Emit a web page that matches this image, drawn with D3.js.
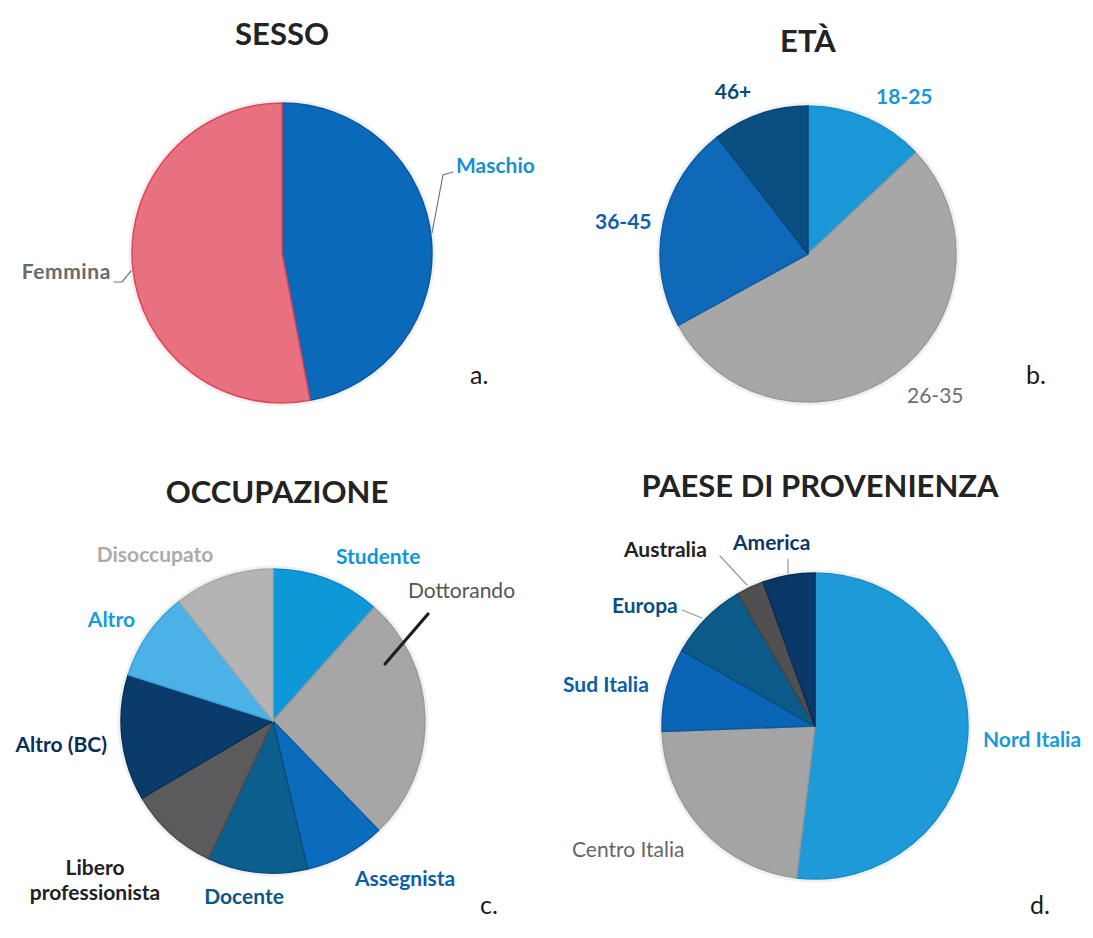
<!DOCTYPE html>
<html>
<head>
<meta charset="utf-8">
<script src="https://cdn.jsdelivr.net/npm/d3@7"></script>
<style>
  html, body { margin: 0; padding: 0; background: #ffffff; }
  svg { display: block; }
  text { font-family: Lato, "Open Sans", sans-serif; }
</style>
</head>
<body>
<div id="chart"></div>
<script>
// ---------- DATA ----------
const sessoLabels = ["Maschio", "Femmina"];
const sessoValues = [47, 53];

const etaLabels = ["18-25", "26-35", "36-45", "46+"];
const etaValues = [13, 54, 22.5, 10.5];

const occupazioneLabels = ["Studente", "Dottorando", "Assegnista", "Docente",
  "Libero professionista", "Altro (BC)", "Altro", "Disoccupato"];
const occupazioneValues = [11.6, 26.2, 8.6, 10.6, 9.6, 13.4, 9.5, 10.6];

const paeseLabels = ["Nord Italia", "Centro Italia", "Sud Italia", "Europa", "Australia", "America"];
const paeseValues = [51.9, 22.5, 8.75, 8.4, 2.9, 5.5];

const chartTitles = ["SESSO", "ETÀ", "OCCUPAZIONE", "PAESE DI PROVENIENZA"];
const panelLetters = ["a.", "b.", "c.", "d."];

// ---------- STYLE / LAYOUT ----------
const W = 1093, H = 938;
const svg = d3.select("#chart").append("svg").attr("width", W).attr("height", H);

const panels = [
  {
    labels: sessoLabels, values: sessoValues, cx: 282, cy: 253, r: 150,
    title: { x: 282, y: 45 }, letter: { x: 470, y: 384 },
    fills:   ["#0b69b9", "#e8717f"],
    strokes: ["#0a58a0", "#e2435a"],
    text: [
      { dx: 174, dy: -80, anchor: "start", color: "#1b8fd2", weight: 700 },
      { dx: -171, dy: 26, anchor: "end", color: "#6a6a6a", weight: 700, ls: 0.6 }
    ],
    leaders: [
      { pts: [[150, -20], [161, -78], [171, -81]], color: "#777", w: 1.2 },
      { pts: [[-168, 29], [-160, 29], [-151, 18]], color: "#777", w: 1.2 }
    ]
  },
  {
    labels: etaLabels, values: etaValues, cx: 808, cy: 254, r: 148,
    title: { x: 808, y: 52 }, letter: { x: 1026, y: 384 },
    fills:   ["#1a97d7", "#a7a7a7", "#0f68b8", "#0b4f82"],
    strokes: ["#1a8ccb", "#9a9a9a", "#0d5da6", "#0a4675"],
    text: [
      { dx: 68, dy: -150, anchor: "start", color: "#1a97d6", weight: 700 },
      { dx: 99, dy: 149, anchor: "start", color: "#6e6e6e", weight: 400 },
      { dx: -213, dy: -25, anchor: "start", color: "#0d5ea8", weight: 700 },
      { dx: -75, dy: -155, anchor: "middle", color: "#0a4a75", weight: 700 }
    ],
    leaders: []
  },
  {
    labels: occupazioneLabels, values: occupazioneValues, cx: 273, cy: 721, r: 152,
    title: { x: 277, y: 503 }, letter: { x: 480, y: 914 },
    fills:   ["#0d98d8", "#a6a6a6", "#0b6bbd", "#0b5e8e", "#5b5b5b", "#0a3b6a", "#4cb1e7", "#b4b4b4"],
    strokes: ["#0a8acb", "#9a9a9a", "#0a5da6", "#0a4f7a", "#4c4c4c", "#08305a", "#3aa4dd", "#a8a8a8"],
    text: [
      { dx: 63, dy: -157, anchor: "start", color: "#0d97d6", weight: 700 },
      { dx: 135, dy: -123, anchor: "start", color: "#555555", weight: 400 },
      { dx: 82, dy: 165, anchor: "start", color: "#0d5ea8", weight: 700 },
      { dx: -29, dy: 183, anchor: "middle", color: "#0b5687", weight: 700 },
      { dx: -178, dy: 154, anchor: "middle", color: "#222222", weight: 700, lines: ["Libero", "professionista"] },
      { dx: -166, dy: 31, anchor: "end", color: "#0a2f57", weight: 700 },
      { dx: -138, dy: -94, anchor: "end", color: "#1a9ad8", weight: 700 },
      { dx: -118, dy: -159, anchor: "middle", color: "#ababab", weight: 700 }
    ],
    leaders: [
      { pts: [[155, -107], [112, -57]], color: "#1e1e1e", w: 3.2 }
    ]
  },
  {
    labels: paeseLabels, values: paeseValues, cx: 815, cy: 726, r: 153,
    title: { x: 820, y: 497 }, letter: { x: 1030, y: 914 },
    fills:   ["#1f9ad9", "#a4a4a4", "#0b65b6", "#0b5a8a", "#505050", "#0a3868"],
    strokes: ["#1a8dcc", "#989898", "#0a58a2", "#094d78", "#444444", "#082e58"],
    text: [
      { dx: 168, dy: 21, anchor: "start", color: "#1a9ad8", weight: 700 },
      { dx: -243, dy: 131, anchor: "start", color: "#666666", weight: 400 },
      { dx: -252, dy: -34, anchor: "start", color: "#0d5ea8", weight: 700 },
      { dx: -203, dy: -113, anchor: "start", color: "#0b4f80", weight: 700 },
      { dx: -191, dy: -169, anchor: "start", color: "#222222", weight: 700 },
      { dx: -82, dy: -176, anchor: "start", color: "#0a3867", weight: 700 }
    ],
    leaders: [
      { pts: [[-95, -170], [-68, -141]], color: "#999", w: 1.2 },
      { pts: [[-27, -167], [-27, -153]], color: "#999", w: 1.2 },
      { pts: [[-133, -116], [-113, -108]], color: "#999", w: 1.2 }
    ]
  }
];

const pie = d3.pie().sort(null).value(d => d.value);

panels.forEach((p, i) => {
  const g = svg.append("g").attr("transform", `translate(${p.cx},${p.cy})`);
  const data = p.labels.map((l, k) => ({ label: l, value: p.values[k] }));
  const arcs = pie(data);
  const arc = d3.arc().innerRadius(0).outerRadius(p.r);

  // soft halo
  g.append("circle").attr("r", p.r + 2).attr("fill", "none")
    .attr("stroke", "#e6e6e6").attr("stroke-width", 3).attr("opacity", 0.6);

  g.selectAll("path.slice").data(arcs).enter().append("path")
    .attr("class", "slice")
    .attr("d", arc)
    .attr("fill", (d, k) => p.fills[k])
    .attr("stroke", (d, k) => p.strokes[k])
    .attr("stroke-width", 1.5)
    .attr("stroke-linejoin", "round");

  // leader lines
  const line = d3.line();
  p.leaders.forEach(ld => {
    g.append("path").attr("d", line(ld.pts)).attr("fill", "none")
      .attr("stroke", ld.color).attr("stroke-width", ld.w).attr("stroke-linecap", "round");
  });

  // labels
  arcs.forEach((a, k) => {
    const t = p.text[k];
    const lines = t.lines || [a.data.label];
    const txt = g.append("text")
      .attr("x", t.dx).attr("y", t.dy)
      .attr("text-anchor", t.anchor)
      .attr("fill", t.color)
      .attr("font-weight", t.weight)
      .attr("font-size", 21)
      .attr("letter-spacing", t.ls || 0);
    lines.forEach((ln, j) => {
      txt.append("tspan").attr("x", t.dx).attr("dy", j === 0 ? 0 : 25).text(ln);
    });
  });

  // title
  svg.append("text").attr("x", p.title.x).attr("y", p.title.y)
    .attr("text-anchor", "middle").attr("font-size", 31).attr("font-weight", 700)
    .attr("fill", "#232323").text(chartTitles[i]);

  // panel letter
  svg.append("text").attr("x", p.letter.x).attr("y", p.letter.y)
    .attr("font-size", 25).attr("font-weight", 400)
    .attr("fill", "#1a1a1a").text(panelLetters[i]);
});
</script>
</body>
</html>
